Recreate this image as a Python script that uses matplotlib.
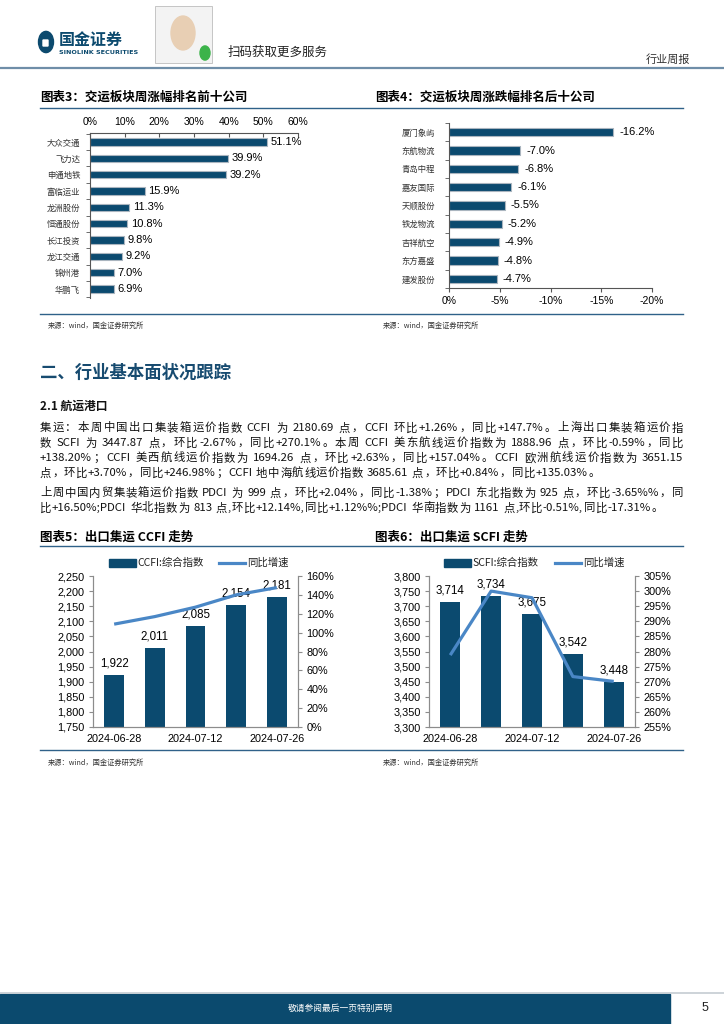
import re
import numpy as np
import matplotlib
matplotlib.use('Agg')
import matplotlib.pyplot as plt
from matplotlib.patches import Rectangle, Circle, FancyBboxPatch
from matplotlib.lines import Line2D
from matplotlib.font_manager import FontProperties
import matplotlib.ticker as mticker

plt.rcParams['font.family'] = ['Noto Sans CJK SC', 'DejaVu Sans']

# ---------------- data ----------------
top10_names = ['大众交通', '飞力达', '申通地铁', '富临运业', '龙洲股份',
               '恒通股份', '长江投资', '龙江交通', '锦州港', '华鹏飞']
top10_vals = [51.1, 39.9, 39.2, 15.9, 11.3, 10.8, 9.8, 9.2, 7.0, 6.9]

bottom_names = ['厦门象屿', '东航物流', '青岛中程', '嘉友国际', '天顺股份',
                '铁龙物流', '吉祥航空', '东方嘉盛', '建发股份']
bottom_vals = [-16.2, -7.0, -6.8, -6.1, -5.5, -5.2, -4.9, -4.8, -4.7]

dates = ['2024-06-28', '2024-07-05', '2024-07-12', '2024-07-19', '2024-07-26']
date_label_idx = [0, 2, 4]
ccfi = [1922, 2011, 2085, 2154, 2181]
ccfi_yoy = [109.0, 117.0, 127.0, 140.0, 147.7]
scfi = [3714, 3734, 3675, 3542, 3448]
scfi_yoy = [278.8, 300.0, 297.8, 271.7, 270.1]

para1 = ["集运：本周中国出口集装箱运价指数 CCFI 为 2180.69 点，CCFI 环比+1.26%，同比+147.7%。上海出口集装箱运价指",
         "数 SCFI 为 3447.87 点，环比-2.67%，同比+270.1%。本周 CCFI 美东航线运价指数为 1888.96 点，环比-0.59%，同比",
         "+138.20%；CCFI 美西航线运价指数为 1694.26 点，环比+2.63%，同比+157.04%。CCFI 欧洲航线运价指数为 3651.15",
         "点，环比+3.70%，同比+246.98%；CCFI 地中海航线运价指数 3685.61 点，环比+0.84%，同比+135.03%。"]
para2 = ["上周中国内贸集装箱运价指数 PDCI 为 999 点，环比+2.04%，同比-1.38%；PDCI 东北指数为 925 点，环比-3.65%%，同",
         "比+16.50%;PDCI 华北指数为 813 点,环比+12.14%,同比+1.12%%;PDCI 华南指数为 1161 点,环比-0.51%,同比-17.31%。"]

# ---------------- style ----------------
BAR = '#0b4a6f'
BAR_EDGE = '#aab5bf'
LINE = '#4a87c6'
RULE = '#2f6189'
AXC = '#8c8c8c'
NUM = ['Liberation Sans', 'DejaVu Sans']

W, H = 724, 1024
fig = plt.figure(figsize=(7.24, 10.24), dpi=100)


def fx(x):
    return x / W


def fy(y):
    return 1 - y / H


def ax_at(l, t, r, b):
    return fig.add_axes([fx(l), fy(b), (r - l) / W, (b - t) / H])


def hline(x0, x1, y, color, lw):
    fig.add_artist(Line2D([fx(x0), fx(x1)], [fy(y), fy(y)], color=color, lw=lw,
                          transform=fig.transFigure))


def txt(x, y, s, **kw):
    kw.setdefault('va', 'center')
    return fig.text(fx(x), fy(y), s, **kw)


# ---------------- header ----------------
fig.add_artist(Circle((fx(46), fy(42)), 7.5 / W, transform=fig.transFigure,
                      color='#0c4a6e'))
fig.add_artist(FancyBboxPatch((fx(43), fy(46)), 5 / W, 6 / H, boxstyle='round,pad=0',
                              transform=fig.transFigure, color='white'))
txt(59, 40, '国金证券', fontsize=11.5, fontweight='bold', color='#0c4a6e')
txt(59, 52, 'SINOLINK SECURITIES', fontsize=4.6, fontweight='bold', color='#0c4a6e',
    family=['DejaVu Sans'])
# QR code placeholder
fig.add_artist(Rectangle((fx(155), fy(63)), 57 / W, 57 / H, transform=fig.transFigure,
                         facecolor='#f3f3f3', edgecolor='#bdbdbd', lw=0.6))
fig.add_artist(Circle((fx(183), fy(33)), 12 / W, transform=fig.transFigure,
                      color='#e8cfb4'))
fig.add_artist(Circle((fx(205), fy(53)), 5 / W, transform=fig.transFigure,
                      color='#3cb34a'))
txt(228, 52, '扫码获取更多服务', fontsize=9, color='#222222')
txt(690, 60, '行业周报', fontsize=8, color='#333333', ha='right')
hline(0, 724, 68, '#6f8ea8', 1.6)

# ---------------- chart titles & rules ----------------
txt(40, 97, '图表3：交运板块周涨幅排名前十公司', fontsize=9, fontweight='bold')
txt(375, 97, '图表4：交运板块周涨跌幅排名后十公司', fontsize=9, fontweight='bold')
hline(40, 683, 108, RULE, 1.0)
hline(40, 683, 314, RULE, 1.0)
txt(48, 326, '来源：wind，国金证券研究所', fontsize=5.2, color='#333333')
txt(383, 326, '来源：wind，国金证券研究所', fontsize=5.2, color='#333333')

# ---------------- chart 3 ----------------
ax3 = ax_at(90, 133, 298, 298)
y3 = np.arange(len(top10_vals))
ax3.barh(y3, top10_vals, height=0.45, color=BAR, edgecolor=BAR_EDGE, lw=0.8)
ax3.set_xlim(0, 60)
ax3.set_ylim(len(top10_vals) - 0.45, -0.55)
ax3.xaxis.tick_top()
ax3.set_xticks(np.arange(0, 61, 10))
ax3.xaxis.set_major_formatter(mticker.FuncFormatter(lambda v, p: f'{v:.0f}%'))
ax3.set_yticks(y3, top10_names)
ax3.set_yticks(np.arange(-0.5, len(top10_vals), 1), minor=True)
ax3.tick_params(axis='y', which='major', length=0, labelsize=6, pad=7, labelcolor='#333333')
ax3.tick_params(axis='y', which='minor', length=3, color='#555555', direction='out')
ax3.tick_params(axis='x', length=3, direction='in', labelsize=7.5, pad=4, color='#555555')
for lab in ax3.get_xticklabels():
    lab.set_family(NUM)
for s in ['right', 'bottom']:
    ax3.spines[s].set_visible(False)
for s in ['top', 'left']:
    ax3.spines[s].set_color('#555555')
    ax3.spines[s].set_linewidth(0.8)
for i, v in enumerate(top10_vals):
    ax3.text(v + 1.0, i, f'{v:.1f}%', va='center', ha='left', fontsize=8, family=NUM)

# ---------------- chart 4 ----------------
ax4 = ax_at(449, 123, 652, 288)
y4 = np.arange(len(bottom_vals))
ax4.barh(y4, bottom_vals, height=0.45, color=BAR, edgecolor=BAR_EDGE, lw=0.8)
ax4.set_xlim(0, -20)
ax4.set_ylim(len(bottom_vals) - 0.5, -0.5)
ax4.set_xticks(np.arange(0, -21, -5))
ax4.xaxis.set_major_formatter(mticker.FuncFormatter(lambda v, p: f'{v:.0f}%'))
ax4.set_yticks(y4, bottom_names)
ax4.set_yticks(np.arange(-0.5, len(bottom_vals), 1), minor=True)
ax4.tick_params(axis='y', which='major', length=0, labelsize=6, pad=10, labelcolor='#333333')
ax4.tick_params(axis='y', which='minor', length=3, color='#555555', direction='out')
ax4.tick_params(axis='x', length=3, direction='out', labelsize=7.5, pad=3, color='#555555')
for lab in ax4.get_xticklabels():
    lab.set_family(NUM)
for s in ['right', 'top']:
    ax4.spines[s].set_visible(False)
for s in ['bottom', 'left']:
    ax4.spines[s].set_color('#555555')
    ax4.spines[s].set_linewidth(0.8)
for i, v in enumerate(bottom_vals):
    ax4.text(v - 0.6, i, f'{v:.1f}%', va='center', ha='left', fontsize=8, family=NUM)

# ---------------- section text ----------------
txt(40, 373, '二、行业基本面状况跟踪', fontsize=12.5, fontweight='bold', color='#174b70')
txt(40, 406, '2.1 航运港口', fontsize=8.5, fontweight='bold', color='#111111')

renderer = fig.canvas.get_renderer()
PARA_FP = FontProperties(family=['Noto Sans CJK SC', 'DejaVu Sans'], size=8.2)


def text_line(x0, x1, y, s, justify=True):
    tokens = re.findall(r'[!-~]+| |[^!-~ ]', s)
    widths = []
    for t in tokens:
        if t == ' ':
            w, _, _ = renderer.get_text_width_height_descent('a a', PARA_FP, ismath=False)
            w2, _, _ = renderer.get_text_width_height_descent('aa', PARA_FP, ismath=False)
            widths.append(w - w2)
        else:
            w, _, _ = renderer.get_text_width_height_descent(t, PARA_FP, ismath=False)
            widths.append(w)
    total = sum(widths)
    gap = (x1 - x0 - total) / max(len(tokens) - 1, 1) if justify else 0.6
    x = x0
    for t, w in zip(tokens, widths):
        if t != ' ':
            fig.text(fx(x), fy(y), t, fontproperties=PARA_FP, va='center', ha='left',
                     color='#111111')
        x += w + gap


ys1 = [428, 443, 458, 473]
for i, (s, yy) in enumerate(zip(para1, ys1)):
    text_line(40, 683, yy, s, justify=(i < len(para1) - 1))
ys2 = [493, 508]
for i, (s, yy) in enumerate(zip(para2, ys2)):
    text_line(40, 683, yy, s, justify=(i < len(para2) - 1))

# ---------------- chart 5/6 titles ----------------
txt(40, 537, '图表5：出口集运 CCFI 走势', fontsize=9, fontweight='bold')
txt(375, 537, '图表6：出口集运 SCFI 走势', fontsize=9, fontweight='bold')
hline(40, 683, 546, RULE, 1.0)
hline(40, 683, 750, RULE, 1.0)
txt(48, 763, '来源：wind，国金证券研究所', fontsize=5.2, color='#333333')
txt(383, 763, '来源：wind，国金证券研究所', fontsize=5.2, color='#333333')


def legend(xp, xl, y, label1, label2):
    fig.add_artist(Rectangle((fx(xp), fy(y + 4)), 27 / W, 8 / H, transform=fig.transFigure,
                             color=BAR))
    txt(xp + 28, y, label1, fontsize=7.5, color='#222222')
    fig.add_artist(Line2D([fx(xl), fx(xl + 26)], [fy(y), fy(y)], color=LINE, lw=2.3,
                          transform=fig.transFigure))
    txt(xl + 28, y, label2, fontsize=7.5, color='#222222')


legend(109, 219, 563, 'CCFI:综合指数', '同比增速')
legend(444, 555, 563, 'SCFI:综合指数', '同比增速')


def combo(ax, vals, yoy, ylo, yhi, ystep, rlo, rhi, rstep, rdec):
    x = np.arange(len(vals))
    ax.bar(x, vals, width=0.48, color=BAR)
    ax.set_xlim(-0.52, len(vals) - 0.48)
    ax.set_ylim(ylo, yhi)
    ax.set_yticks(np.arange(ylo, yhi + 1, ystep))
    ax.yaxis.set_major_formatter(mticker.FuncFormatter(lambda v, p: f'{v:,.0f}'))
    ax.set_xticks(date_label_idx, [dates[i] for i in date_label_idx])
    ax.tick_params(axis='x', length=0, labelsize=7.8, pad=5)
    ax.tick_params(axis='y', length=3, labelsize=7.8, color=AXC, pad=3)
    for i, v in enumerate(vals):
        ax.annotate(f'{v:,}', (i, v), xytext=(0, 4), textcoords='offset points',
                    ha='center', va='bottom', fontsize=8.3, family=NUM)
    axr = ax.twinx()
    axr.plot(x, np.array(yoy) / 100, color=LINE, lw=2.3, solid_capstyle='butt')
    axr.set_ylim(rlo, rhi)
    axr.set_yticks(np.arange(rlo, rhi + 1e-9, rstep))
    axr.yaxis.set_major_formatter(mticker.PercentFormatter(1.0, decimals=rdec))
    axr.tick_params(axis='y', length=3, labelsize=7.8, color=AXC, pad=3)
    for a in (ax, axr):
        a.spines['top'].set_visible(False)
        for s in ['left', 'right', 'bottom']:
            a.spines[s].set_color(AXC)
            a.spines[s].set_linewidth(0.8)
        for lab in a.get_xticklabels() + a.get_yticklabels():
            lab.set_family(NUM)
    return axr


ax5 = ax_at(93, 576, 298, 727)
combo(ax5, ccfi, ccfi_yoy, 1750, 2250, 50, 0.0, 1.6, 0.2, 0)
ax6 = ax_at(429, 576, 635, 727)
combo(ax6, scfi, scfi_yoy, 3300, 3800, 50, 2.55, 3.05, 0.05, 0)

# ---------------- footer ----------------
hline(0, 724, 993, '#c5ccd2', 1.2)
fig.add_artist(Rectangle((0, fy(1024)), fx(670), 30 / H, transform=fig.transFigure,
                         color='#0b4a6e'))
txt(340, 1008, '敬请参阅最后一页特别声明', fontsize=6.3, color='white', ha='center')
txt(705, 1008, '5', fontsize=9, color='#222222', ha='center', family=NUM)

fig.savefig('out.png', dpi=100)
